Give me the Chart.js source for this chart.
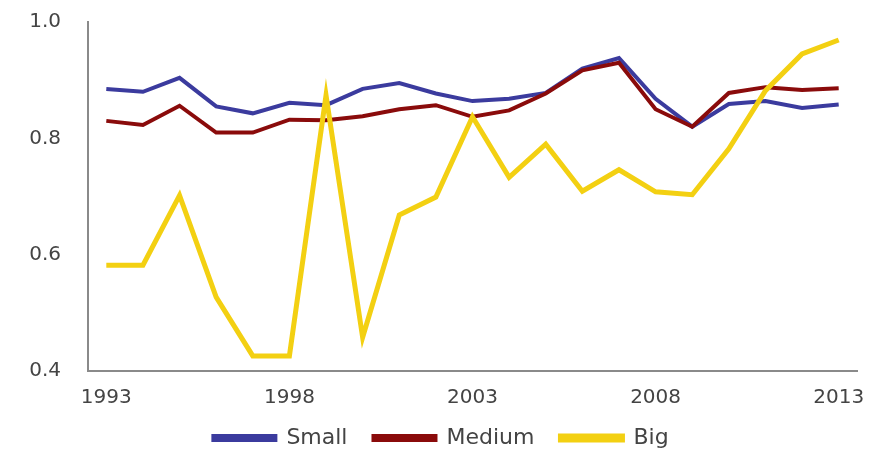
<!DOCTYPE html>
<html>
<head>
<meta charset="utf-8">
<script src="https://cdn.jsdelivr.net/npm/chart.js@4/dist/chart.umd.min.js"></script>
<style>
  html, body { margin: 0; padding: 0; background: #fff; }
  #box { width: 881px; height: 451px; }
</style>
</head>
<body>
<div id="box"><canvas id="grafico"></canvas></div>
<script>
const anos = [1993, 1994, 1995, 1996, 1997, 1998, 1999, 2000, 2001, 2002, 2003,
              2004, 2005, 2006, 2007, 2008, 2009, 2010, 2011, 2012, 2013];
const anosMarcados = [1993, 1998, 2003, 2008, 2013];
const small  = [0.885, 0.880, 0.904, 0.855, 0.843, 0.861, 0.857, 0.885, 0.895, 0.877, 0.864,
                0.868, 0.878, 0.920, 0.938, 0.868, 0.820, 0.859, 0.864, 0.852, 0.858];
const medium = [0.830, 0.823, 0.856, 0.810, 0.810, 0.832, 0.831, 0.838, 0.850, 0.857, 0.837,
                0.848, 0.877, 0.917, 0.930, 0.850, 0.820, 0.878, 0.888, 0.883, 0.886];
const big    = [0.582, 0.582, 0.702, 0.527, 0.426, 0.426, 0.874, 0.458, 0.668, 0.699, 0.837,
                0.733, 0.790, 0.709, 0.746, 0.708, 0.703, 0.782, 0.882, 0.945, 0.969];
const yTicks = [0.4, 0.6, 0.8, 1.0];

const fonte = { family: 'DejaVu Sans', size: 20 };

// sobe a legenda um pouco, mais perto dos anos
const subirLegenda = {
    id: 'subirLegenda',
    afterLayout(chart) {
        chart.legend.top -= 24;
        chart.legend.bottom -= 24;
    }
};

const ctx = document.getElementById('grafico').getContext('2d');
const grafico = new Chart(ctx, {
    type: 'line',
    data: {
        labels: anos,
        datasets: [
            // order: Big por cima, depois Medium, Small por baixo
            { label: 'Small',  data: small,  borderColor: '#3b3b9e', backgroundColor: '#3b3b9e', borderWidth: 4, order: 2 },
            { label: 'Medium', data: medium, borderColor: '#8a0b0b', backgroundColor: '#8a0b0b', borderWidth: 4, order: 1 },
            { label: 'Big',    data: big,    borderColor: '#f3d012', backgroundColor: '#f3d012', borderWidth: 5, order: 0 }
        ]
    },
    options: {
        responsive: true,
        maintainAspectRatio: false,
        animation: false,
        elements: { point: { radius: 0 }, line: { tension: 0 } },
        layout: { padding: { top: 22, right: 24, left: 25, bottom: -32 } },
        plugins: {
            tooltip: { enabled: false },
            legend: {
                position: 'bottom',
                labels: {
                    font: { family: 'DejaVu Sans', size: 22 },
                    color: '#444',
                    boxWidth: 62,
                    boxHeight: 4,
                    padding: 26,
                    sort: (a, b) => a.datasetIndex - b.datasetIndex
                }
            }
        },
        scales: {
            x: {
                offset: true,
                grid: { display: false, drawTicks: false },
                border: { display: true, color: '#8a8a8a', width: 2 },
                ticks: {
                    autoSkip: false,
                    maxRotation: 0,
                    padding: 15,
                    color: '#444',
                    font: fonte,
                    callback: function (v, i) {
                        const ano = anos[i];
                        return anosMarcados.includes(ano) ? String(ano) : '';
                    }
                }
            },
            y: {
                min: 0.4,
                max: 1.0,
                grid: { display: false, drawTicks: false },
                border: { display: true, color: '#8a8a8a', width: 2 },
                afterBuildTicks: function (axis) {
                    axis.ticks = yTicks.map(v => ({ value: v }));
                },
                afterFit: function (axis) {
                    axis.width = 63; // eixo em x = 88
                    axis.paddingTop = 12;
                    axis.paddingBottom = 12;
                },
                ticks: {
                    padding: 27,
                    color: '#444',
                    font: fonte,
                    callback: v => Number(v).toFixed(1)
                }
            }
        }
    },
    plugins: [subirLegenda]
});
</script>
</body>
</html>
